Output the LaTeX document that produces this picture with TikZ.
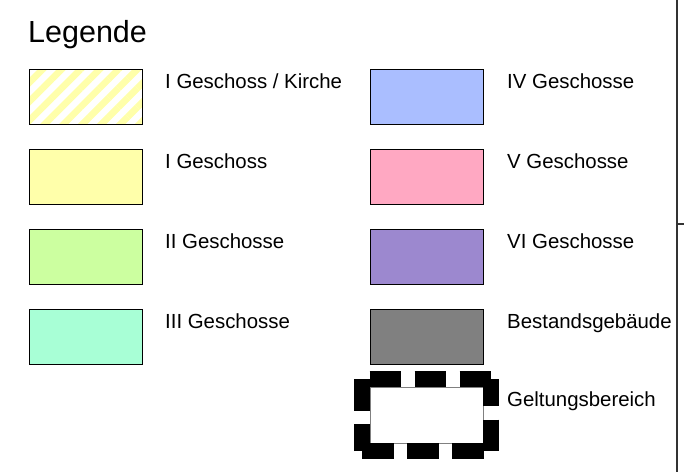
\documentclass[tikz,border=0pt]{standalone}
\usepackage{fontspec}
\setmainfont{Liberation Sans}
\usepackage{tikz}
\usetikzlibrary{patterns.meta}
\definecolor{gelb}{HTML}{FFFFAA}
\definecolor{gruen}{HTML}{CCFFA0}
\definecolor{mint}{HTML}{A8FFD6}
\definecolor{blau}{HTML}{AABEFF}
\definecolor{rosa}{HTML}{FFA8C2}
\definecolor{lila}{HTML}{9C88CF}
\definecolor{grau}{HTML}{808080}
\tikzset{
  box/.style={draw=black,line width=1pt,minimum width=113pt,minimum height=55pt,inner sep=0pt,outer sep=0pt},
  lab/.style={anchor=base west,inner sep=0pt,font=\fontsize{20.4pt}{24pt}\selectfont},
  gbox/.style={minimum width=129pt,minimum height=72pt,inner sep=0pt,outer sep=0pt},
  gline/.style={line width=16pt,dash pattern=on 31.5pt off 13.5pt},
  frame/.style={line width=1.2pt,black!80}
}

\begin{document}
\begin{tikzpicture}[x=1pt,y=-1pt]
\fill[white] (0,0) rectangle (684,472);
\useasboundingbox (0,0) rectangle (684,472);

\node[anchor=base west,inner sep=0pt,font=\fontsize{30.5pt}{36pt}\selectfont] (T) at (28,42) {Legende};

\node[box,pattern={Lines[angle=45,distance=13.4pt,line width=6.7pt]},pattern color=gelb] (A1) at (85.5,96.5) {};
\node[box,fill=gelb] (A2) at (85.5,176.5) {};
\node[box,fill=gruen] (A3) at (85.5,256.5) {};
\node[box,fill=mint] (A4) at (85.5,336.5) {};

\node[box,fill=blau] (B1) at (426.5,96.5) {};
\node[box,fill=rosa] (B2) at (426.5,176.5) {};
\node[box,fill=lila] (B3) at (426.5,256.5) {};
\node[box,fill=grau] (B4) at (426.5,336.5) {};

\node[gbox] (G) at (426.5,415) {};
\node[box,draw=black!50,line width=0.8pt,minimum height=56pt] (G0) at (G) {};
\draw[gline,dash phase=37.5pt] (G.north west) -- (G.north east);
\draw[gline,dash phase=4.5pt] (G.north east) -- (G.south east);
\draw[gline,dash phase=37.5pt] (G.south east) -- (G.south west);
\draw[gline,dash phase=4.5pt] (G.south west) -- (G.north west);

\node[lab] (LA1) at (165,88) {I Geschoss / Kirche};
\node[lab] (LA2) at (165,168) {I Geschoss};
\node[lab] (LA3) at (165,248) {II Geschosse};
\node[lab] (LA4) at (165,328) {III Geschosse};

\node[lab] (LB1) at (507,88) {IV Geschosse};
\node[lab] (LB2) at (507,168) {V Geschosse};
\node[lab] (LB3) at (507,248) {VI Geschosse};
\node[lab] (LB4) at (507,328) {Bestandsgebäude};
\node[lab] (LG) at (507,406) {Geltungsbereich};

\coordinate (R1) at (677,0);
\coordinate (R2) at (677,472);
\coordinate (R3) at (677,224);
\coordinate (R4) at (684,224);
\draw[frame] (R1) -- (R2);
\draw[frame] (R3) -- (R4);
\end{tikzpicture}
\end{document}
